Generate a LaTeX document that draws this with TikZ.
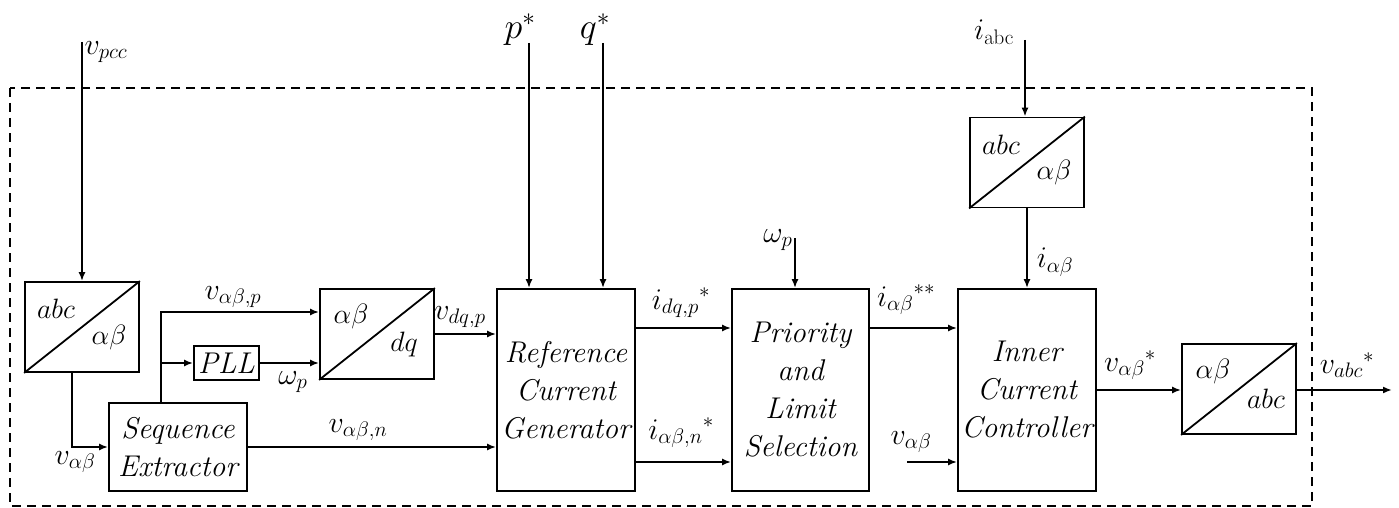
\documentclass[tikz,border=0pt]{standalone}
\usepackage{fix-cm}
\usepackage{amsmath}
\usepackage{amssymb}
\usepackage{tikz}
\usetikzlibrary{shapes, arrows.meta, positioning}

\tikzset{
  blk/.style={draw, line width=1.8pt, inner sep=0pt, align=center,
    font=\fontsize{30}{38}\selectfont\itshape},
  conv/.style={blk, minimum width=114, minimum height=90},
  sig/.style={inner sep=0pt, font=\fontsize{30}{36}\selectfont},
  cvt/.style={inner sep=0pt, font=\fontsize{28}{32}\selectfont},
  wire/.style={line width=1.8pt, -{Latex[length=9pt, width=7pt]}},
}

\begin{document}
\begin{tikzpicture}[x=1pt, y=-1pt]
        \useasboundingbox (0,0) rectangle (1399,508);

        % dashed controller frame
        \draw[line width=1.8pt, dash pattern=on 9pt off 6pt] (10,88) rectangle (1312,506);

        % --- transformation blocks ---
        \foreach \n/\x/\y/\ta/\tb in {cA/82/327/abc/\alpha\beta, cB/377/334/\alpha\beta/dq,
                                      cC/1027/162.5/abc/\alpha\beta, cD/1239/389/\alpha\beta/abc} {
            \node[conv] (\n) at (\x,\y) {};
            \draw[line width=1.8pt] (\n.south west) -- (\n.north east);
            \node[cvt] (\n-t) at ([shift={(-26,-18)}]\n.center) {$\ta$};
            \node[cvt] (\n-b) at ([shift={(27,10)}]\n.center) {$\tb$};
        }

        % --- main blocks ---
        \node[blk, minimum width=138, minimum height=88] (seq) at (178,447) {Sequence\\Extractor};
        \node[blk, minimum width=65, minimum height=34] (pll) at (226.5,363) {PLL};
        \node[blk, minimum width=138, minimum height=202] (rcg) at (566,390) {Reference\\Current\\Generator};
        \node[blk, minimum width=137, minimum height=202] (pls) at (800.5,390) {Priority\\and\\Limit\\Selection};
        \node[blk, minimum width=138, minimum height=202] (icc) at (1027,390) {Inner\\Current\\Controller};

        % free ends
        \coordinate (vpcc) at (82,42);
        \coordinate (ps) at (529,43);
        \coordinate (qs) at (603,43);
        \coordinate (wp) at (795,238);
        \coordinate (vin) at (907,462);
        \coordinate (iabc) at (1025,40);
        \coordinate (out) at (1392,390);
        \coordinate (br) at ([xshift=-17]seq.north);

        % --- signals ---
        \draw[wire] (vpcc) -- (cA.north);
        \draw[wire] ([xshift=-10]cA.south) |- (seq.west);
        \draw[wire] (br) |- ([yshift=22]cB.west);
        \draw[wire] (br |- pll.west) -- (pll.west);
        \draw[wire] (pll.east) -- (pll.east -| cB.west);
        \draw[wire] (cB.east) -- (cB.east -| rcg.west);
        \draw[wire] (seq.east) -- (seq.east -| rcg.west);
        \draw[wire] (ps) -- (ps |- rcg.north);
        \draw[wire] (qs) -- (qs |- rcg.north);
        \draw[wire] ([yshift=62]rcg.east) -- ([yshift=62]pls.west);
        \draw[wire] ([yshift=-72]rcg.east) -- ([yshift=-72]pls.west);
        \draw[wire] (wp) -- (wp |- pls.north);
        \draw[wire] ([yshift=62]pls.east) -- ([yshift=62]icc.west);
        \draw[wire] (vin) -- (vin -| icc.west);
        \draw[wire] (iabc) -- (iabc |- cC.north);
        \draw[wire] (cC.south) -- (icc.north);
        \draw[wire] (icc.east) -- (icc.east -| cD.west);
        \draw[wire] (icc.east -| cD.east) -- (out);

        % labels
        \foreach \n/\x/\y/\txt in {vpcc/106/52/{$v_{pcc}$}, vab/75/462/{$v_{\alpha\beta}$},
                                   vabp/233/297/{$v_{\alpha\beta,p}$}, wp/293/382/{$\omega_p$},
                                   vdqp/460/317/{$v_{dq,p}$}, vabn/358/430/{$v_{\alpha\beta,n}$},
                                   idqp/681/303/{${i_{dq,p}}^{*}$}, iabn/681/433/{${i_{\alpha\beta,n}}^{*}$},
                                   wpb/778/240/{$\omega_p$}, iabss/906/300/{${i_{\alpha\beta}}^{**}$},
                                   vabb/911/442/{$v_{\alpha\beta}$}, iabc/994/32/{$i_{\mathrm{abc}}$},
                                   iab/1055/262/{$i_{\alpha\beta}$}, vabs/1130/365/{${v_{\alpha\beta}}^{*}$},
                                   vabcs/1347/365/{${v_{abc}}^{*}$}}
            \node[sig] (l-\n) at (\x,\y) {\txt};
        \foreach \n/\x/\txt in {ps/520/p, qs/595/q}
            \node[sig, font=\fontsize{36}{40}\selectfont] (l-\n) at (\x,30) {$\txt^{*}$};

    \end{tikzpicture}
\end{document}
